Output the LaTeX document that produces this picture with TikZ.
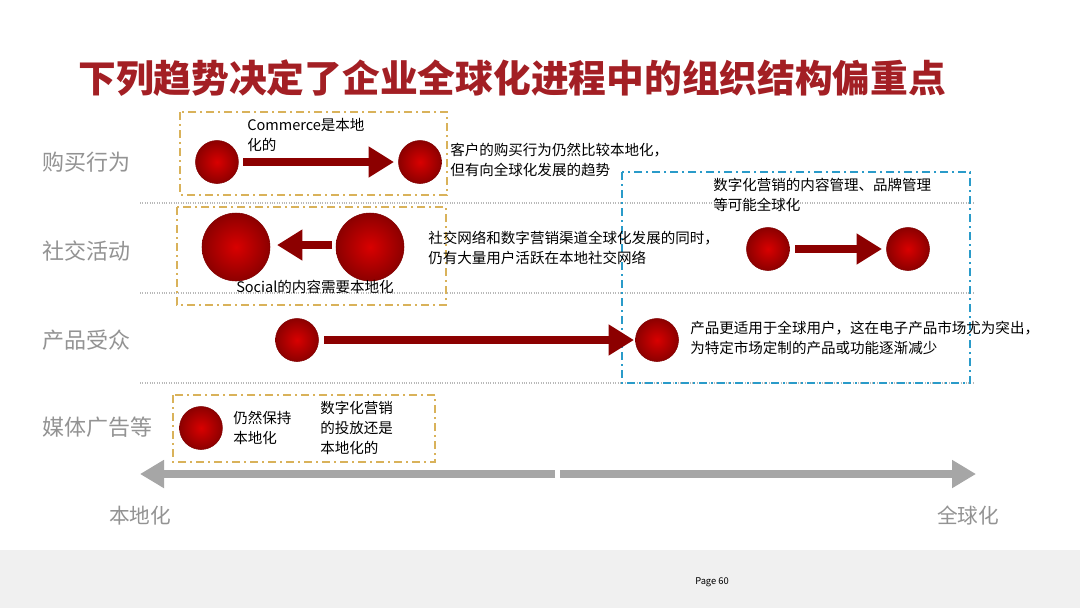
\documentclass[tikz,border=0pt]{standalone}
\usepackage{fontspec}
\setmainfont{Noto Sans CJK SC}
\usetikzlibrary{arrows.meta}
\definecolor{dred}{HTML}{A31F24}
\definecolor{gold}{HTML}{D9B25A}
\begin{document}
\begin{tikzpicture}[x=0.75pt,y=-0.75pt,
 dot/.style={circle,draw=red!50!black,line width=0.4pt,inner sep=0pt,inner color=red!85!black,outer color=red!55!black},
 bar/.style={draw=red!55!black,line width=6.5pt,-{Triangle[length=19pt,width=22pt]}},
 lab/.style={text=gray!85,font=\fontsize{16.5}{18}\selectfont,anchor=west,inner sep=0pt},
 sm/.style={font=\fontsize{10.9}{14.8}\selectfont,align=left,anchor=north west,inner sep=0pt},
 sep/.style={gray!55,densely dotted,line width=0.8pt},
 obox/.style={draw=gold,dash pattern=on 6pt off 3pt on 1.5pt off 3pt,line width=0.9pt},
 bbox/.style={draw=cyan!60!teal,dash pattern=on 6pt off 3pt on 1.5pt off 3pt,line width=0.9pt},
 axis/.style={draw=gray!70,line width=6pt,-{Triangle[length=18pt,width=20pt]}}]
\path[fill=white] (0,0) rectangle (1080,608);
\fill[gray!12] (0,550) rectangle (1080,608);
\node[font=\fontsize{7}{8}\selectfont] (pg) at (712,582) {Page 60};
\node[anchor=west,text=dred,font=\bfseries\fontsize{28.3}{30}\selectfont,inner sep=0pt] (title) at (78,78) {下列趋势决定了企业全球化进程中的组织结构偏重点};
\node[lab] (l1) at (42,162) {购买行为};
\node[lab] (l2) at (42,251) {社交活动};
\node[lab] (l3) at (42,340) {产品受众};
\node[lab] (l4) at (42,427) {媒体广告等};
\draw[sep] (140,203) -- (975,203);
\draw[sep] (140,293) -- (975,293);
\draw[sep] (140,383) -- (975,383);
\draw[obox] (180,112) rectangle (447,195);
\draw[obox] (177,207) rectangle (446,305);
\draw[obox] (173,395) rectangle (435,462);
\draw[bbox] (622,172) rectangle (970,383);
\node[dot,minimum size=43pt*0.75] (a1) at (217,162) {};
\node[dot,minimum size=43pt*0.75] (a2) at (420,162) {};
\draw[bar] (243,162) -- (394,162);
\node[sm,anchor=north west] (t1) at (247,118) {Commerce是本地\\化的};
\node[sm] (t2) at (450,143) {客户的购买行为仍然比较本地化，\\但有向全球化发展的趋势};
\node[dot,minimum size=68pt*0.75] (b1) at (236,247) {};
\node[dot,minimum size=68pt*0.75] (b2) at (370,247) {};
\draw[bar] (332,245) -- (277,245);
\node[sm,anchor=center] (t3) at (315,287) {Social的内容需要本地化};
\node[sm] (t4) at (428,231) {社交网络和数字营销渠道全球化发展的同时，\\仍有大量用户活跃在本地社交网络};
\node[sm] (t5) at (713,178) {数字化营销的内容管理、品牌管理\\等可能全球化};
\node[dot,minimum size=43pt*0.75] (c1) at (768,249) {};
\node[dot,minimum size=43pt*0.75] (c2) at (908,249) {};
\draw[bar] (795,249) -- (882,249);
\node[dot,minimum size=43pt*0.75] (d1) at (297,340) {};
\node[dot,minimum size=43pt*0.75] (d2) at (657,340) {};
\draw[bar] (324,340) -- (634,340);
\node[sm] (t6) at (690,321) {产品更适用于全球用户，这在电子产品市场尤为突出，\\为特定市场定制的产品或功能逐渐减少};
\node[dot,minimum size=43pt*0.75] (e1) at (201,428) {};
\node[sm] (t7) at (233,411) {仍然保持\\本地化};
\node[sm] (t8) at (320,401) {数字化营销\\的投放还是\\本地化的};
\coordinate (m1) at (555,474);
\coordinate (m2) at (560,474);
\coordinate (L) at (140,474);
\coordinate (R) at (976,474);
\draw[axis] (m1) -- (L);
\draw[axis] (m2) -- (R);
\node[text=gray!85,font=\fontsize{15.5}{18}\selectfont] (lo) at (140,516) {本地化};
\node[text=gray!85,font=\fontsize{15.5}{18}\selectfont] (gl) at (968,516) {全球化};
\end{tikzpicture}
\end{document}
